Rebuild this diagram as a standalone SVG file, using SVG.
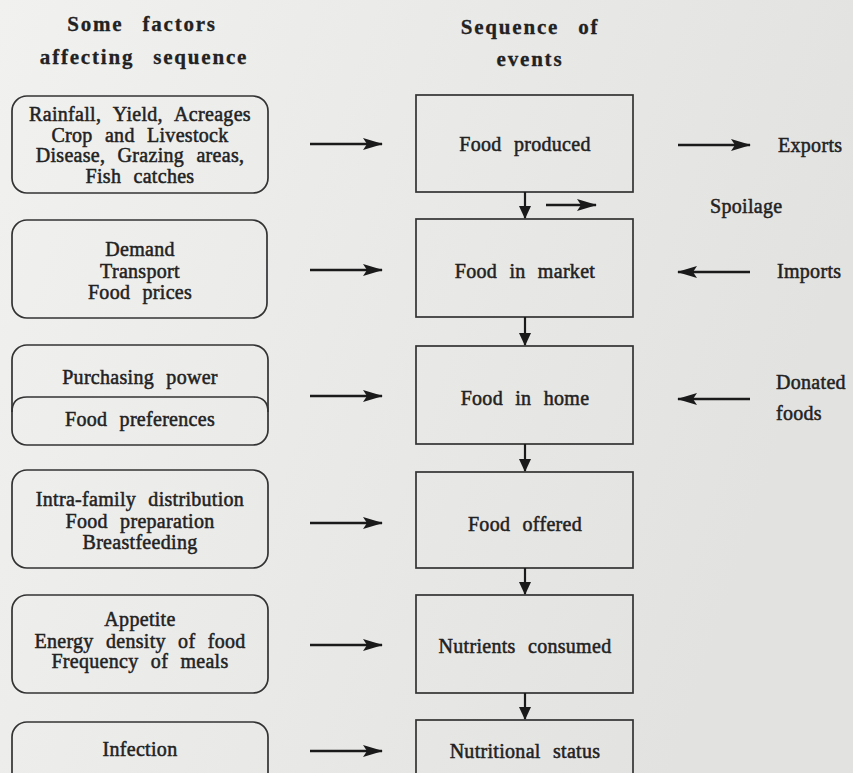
<svg xmlns="http://www.w3.org/2000/svg" width="853" height="773" viewBox="0 0 853 773">
<defs>
<linearGradient id="bg" x1="0" y1="0" x2="1" y2="0.3">
<stop offset="0" stop-color="#f1f1f0"/>
<stop offset="1" stop-color="#e2e2e1"/>
</linearGradient>
<marker id="ah" viewBox="0 0 20 12" refX="19" refY="6" markerWidth="20" markerHeight="12" markerUnits="userSpaceOnUse" orient="auto">
<path d="M0,0 L20,6 L0,12 L4,6 Z" fill="#1a1a1a"/>
</marker>
<marker id="ahs" viewBox="0 0 13 12" refX="12" refY="6" markerWidth="13" markerHeight="12" markerUnits="userSpaceOnUse" orient="auto">
<path d="M0,0 L13,6 L0,12 Z" fill="#1a1a1a"/>
</marker>
<style>
text{font-family:"Liberation Serif","Times New Roman",serif;fill:#222;font-size:20px;word-spacing:7px;letter-spacing:0.3px;stroke:#222;stroke-width:0.5px}
.c{text-anchor:middle}
.h{font-weight:bold;font-size:21px;letter-spacing:1.8px;word-spacing:12px;stroke-width:0.3px}
.rb{fill:none;stroke:#333;stroke-width:1.7}
.bx{fill:none;stroke:#333;stroke-width:1.7}
.ar{stroke:#1a1a1a;stroke-width:2.6;fill:none;marker-end:url(#ah)}
.dn{stroke:#1a1a1a;stroke-width:2.2;fill:none;marker-end:url(#ahs)}
</style>
</defs>
<rect x="0" y="0" width="853" height="773" fill="url(#bg)"/>

<g id="headers">
<text class="c h" x="142" y="31">Some factors</text>
<text class="c h" x="144" y="64">affecting sequence</text>
<text class="c h" x="530" y="34">Sequence of</text>
<text class="c h" x="530" y="66">events</text>
</g>

<g id="factor1">
<rect class="rb" x="12" y="96" width="256" height="97" rx="15"/>
<text class="c" x="140" y="121">Rainfall, Yield, Acreages</text>
<text class="c" x="140" y="142">Crop and Livestock</text>
<text class="c" x="140" y="162">Disease, Grazing areas,</text>
<text class="c" x="140" y="183">Fish catches</text>
</g>
<g id="factor2">
<rect class="rb" x="12" y="220" width="255" height="98" rx="15"/>
<text class="c" x="140" y="256">Demand</text>
<text class="c" x="140" y="278">Transport</text>
<text class="c" x="140" y="299">Food prices</text>
</g>
<g id="factor3">
<rect class="rb" x="12" y="345" width="256" height="100" rx="15"/>
<path class="rb" d="M12,412 Q12,397 27,397 L253,397 Q268,397 268,412"/>
<text class="c" x="140" y="384">Purchasing power</text>
<text class="c" x="140" y="426">Food preferences</text>
</g>
<g id="factor4">
<rect class="rb" x="12" y="470" width="256" height="98" rx="15"/>
<text class="c" x="140" y="506">Intra-family distribution</text>
<text class="c" x="140" y="528">Food preparation</text>
<text class="c" x="140" y="549">Breastfeeding</text>
</g>
<g id="factor5">
<rect class="rb" x="12" y="595" width="256" height="98" rx="15"/>
<text class="c" x="140" y="626">Appetite</text>
<text class="c" x="140" y="648">Energy density of food</text>
<text class="c" x="140" y="668">Frequency of meals</text>
</g>
<g id="factor6">
<rect class="rb" x="12" y="722" width="256" height="80" rx="15"/>
<text class="c" x="140" y="756">Infection</text>
</g>

<g id="food-produced">
<rect class="bx" x="416" y="95" width="217" height="97"/>
<text class="c" x="525" y="151">Food produced</text>
</g>
<g id="food-in-market">
<rect class="bx" x="416" y="219" width="217" height="98"/>
<text class="c" x="525" y="278">Food in market</text>
</g>
<g id="food-in-home">
<rect class="bx" x="416" y="346" width="217" height="98"/>
<text class="c" x="525" y="405">Food in home</text>
</g>
<g id="food-offered">
<rect class="bx" x="416" y="472" width="217" height="96"/>
<text class="c" x="525" y="531">Food offered</text>
</g>
<g id="nutrients-consumed">
<rect class="bx" x="416" y="595" width="217" height="98"/>
<text class="c" x="525" y="653">Nutrients consumed</text>
</g>
<g id="nutritional-status">
<rect class="bx" x="416" y="720" width="217" height="80"/>
<text class="c" x="525" y="758">Nutritional status</text>
</g>

<g id="exports"><text x="778" y="152">Exports</text></g>
<g id="spoilage"><text x="710" y="213">Spoilage</text></g>
<g id="imports"><text x="777" y="278">Imports</text></g>
<g id="donated-foods">
<text x="776" y="389">Donated</text>
<text x="776" y="420">foods</text>
</g>

<g id="connectors">
<line class="ar" x1="310" y1="144" x2="382" y2="144"/>
<line class="ar" x1="310" y1="270" x2="382" y2="270"/>
<line class="ar" x1="310" y1="396" x2="382" y2="396"/>
<line class="ar" x1="310" y1="523" x2="382" y2="523"/>
<line class="ar" x1="310" y1="645" x2="382" y2="645"/>
<line class="ar" x1="310" y1="751" x2="382" y2="751"/>
<line class="ar" x1="678" y1="145" x2="750" y2="145"/>
<line class="ar" x1="546" y1="205" x2="596" y2="205"/>
<line class="ar" x1="750" y1="272" x2="678" y2="272"/>
<line class="ar" x1="750" y1="399" x2="678" y2="399"/>
<line class="dn" x1="525" y1="192" x2="525" y2="218"/>
<line class="dn" x1="525" y1="317" x2="525" y2="345"/>
<line class="dn" x1="525" y1="444" x2="525" y2="471"/>
<line class="dn" x1="525" y1="568" x2="525" y2="594"/>
<line class="dn" x1="525" y1="693" x2="525" y2="719"/>
</g>
</svg>
